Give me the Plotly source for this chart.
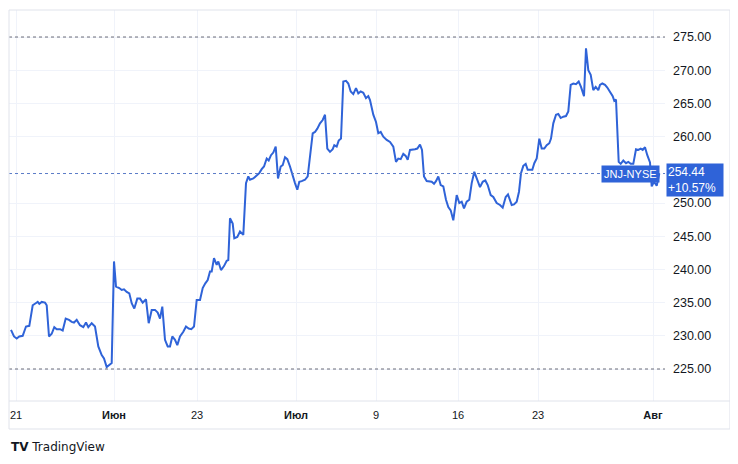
import plotly.graph_objects as go

# time position along the axis and JNJ close price
t = [11, 14, 16.7, 19.3, 22.7, 26, 29.3, 32.7, 35.7, 37.7, 39.3, 41.7, 45, 46.7, 49, 51.7, 54.3, 56.7, 60, 62.7,
     65.7, 69, 71.7, 74, 76.7, 80, 83.3, 86, 88.3, 91.7, 95, 98.3, 101.7, 104, 106.7, 109.3, 111.7, 114, 116, 119.3,
     121.7, 124, 126.7, 129.3, 131.7, 134.3, 137.3, 140, 142.7, 146, 148.7, 151.7, 155, 157.7, 160, 162.3, 165, 167.7,
     170, 172.3, 175, 177.3, 180, 183.3, 186, 188.7, 191.3, 194, 196.7, 200, 202.7, 205.3, 207.7, 210, 211.7, 214,
     216.7, 218.3, 221, 224, 226.7, 228.3, 230, 232.7, 234.3, 237.3, 240, 243.3, 246, 248.3, 250, 253.3, 256.7, 259.3,
     261.7, 264, 266.7, 268.7, 271, 273.3, 275.7, 278, 280.7, 282.7, 285, 287.3, 290, 292.7, 295, 297.3, 299.3, 301.7,
     305, 307.7, 310, 312.7, 315, 317.3, 320, 322.7, 325, 327.3, 330, 332.7, 334.3, 336.7, 338.7, 341, 343.3, 346,
     348.3, 350.7, 353.3, 356, 358.3, 360.7, 363.3, 366, 368.3, 370, 373.3, 376, 378.3, 380.7, 383.3, 386.7, 390,
     393.3, 396, 398.3, 400.7, 403.3, 405.7, 407.7, 410, 412.7, 415, 417.3, 420, 422, 424, 426.7, 429, 431.7, 434,
     436, 438.3, 440.7, 443.3, 446, 448.3, 450.7, 453.3, 456.7, 459.3, 461.7, 464, 466.7, 469.3, 471.7, 474.3, 476.7,
     480, 482.7, 485.3, 487.7, 490.7, 493.3, 496.7, 500, 502.7, 505.7, 508, 511.7, 514, 516.7, 519, 521, 523.3,
     525.7, 527.7, 530, 532.3, 534.3, 536.7, 539.3, 541.7, 544.3, 546.7, 549.3, 551, 553.3, 556, 558.3, 560.7, 563.3,
     566, 568.3, 570.7, 573.3, 576, 578.7, 581, 584, 586, 588.3, 590.7, 593.3, 595.7, 598.3, 600, 602.3, 605, 607.3,
     610, 612.7, 614.3, 616, 618.7, 620.7, 623.3, 626, 628.3, 630.7, 633.3, 636, 638.3, 640.7, 642.7, 645, 647.3,
     650, 651.7, 654, 656.7, 659.3]

price = [230.9, 229.9, 229.6, 229.9, 230.0, 231.4, 231.5, 234.6, 234.9, 235.1, 234.8, 235.1, 235.0, 234.6, 229.9,
         230.3, 231.3, 231.0, 231.0, 230.8, 232.6, 232.4, 232.1, 232.0, 232.4, 231.6, 231.3, 232.0, 231.3, 231.9,
         231.4, 228.4, 227.1, 226.6, 225.3, 225.6, 225.9, 241.2, 237.4, 237.2, 236.9, 237.0, 236.6, 236.4, 234.9,
         234.1, 235.6, 235.6, 235.0, 235.5, 231.9, 233.9, 233.9, 233.5, 232.6, 234.4, 229.4, 228.4, 228.4, 229.9,
         229.4, 228.6, 229.9, 230.6, 231.4, 231.1, 231.0, 231.4, 235.4, 235.4, 237.2, 237.9, 238.4, 239.7, 239.7,
         241.7, 240.7, 241.2, 239.9, 240.5, 241.3, 241.4, 247.7, 246.9, 244.7, 244.9, 245.7, 245.2, 253.0, 254.0,
         253.5, 253.7, 254.2, 254.5, 255.1, 255.5, 256.7, 256.4, 257.2, 257.6, 258.5, 253.7, 255.5, 255.7, 256.9,
         256.6, 255.5, 254.0, 253.0, 252.0, 253.2, 253.3, 253.5, 254.0, 257.2, 260.5, 260.7, 261.2, 262.0, 262.5,
         263.3, 258.2, 257.7, 258.1, 258.7, 258.5, 259.4, 259.7, 268.3, 268.4, 268.0, 266.8, 266.4, 267.3, 266.5,
         266.8, 266.6, 265.8, 266.1, 265.5, 263.3, 262.2, 260.5, 260.7, 260.0, 259.5, 259.2, 258.5, 256.2, 256.7,
         256.6, 257.4, 257.1, 256.5, 258.0, 258.0, 258.1, 258.2, 258.8, 258.0, 254.0, 253.3, 253.2, 253.2, 252.9,
         253.3, 254.0, 252.7, 252.5, 250.5, 249.4, 248.9, 247.4, 251.2, 250.0, 250.2, 249.2, 250.2, 250.5, 253.0,
         254.7, 253.7, 252.4, 253.2, 253.4, 252.7, 251.2, 250.9, 250.0, 249.7, 249.3, 250.9, 251.3, 249.7, 249.8,
         250.2, 251.7, 254.5, 255.6, 255.9, 255.0, 255.0, 255.0, 256.0, 256.7, 259.7, 258.2, 258.2, 258.7, 259.0,
         259.7, 262.0, 263.3, 263.4, 262.8, 263.0, 263.1, 263.8, 267.8, 268.0, 267.9, 268.3, 267.5, 266.1, 273.3,
         270.0, 269.3, 267.0, 267.5, 267.0, 267.8, 268.0, 267.8, 267.4, 266.8, 266.1, 265.4, 265.6, 256.2, 255.9,
         256.4, 256.0, 256.2, 255.9, 255.9, 258.1, 258.0, 258.2, 258.0, 258.4, 257.2, 256.1, 252.5, 253.2, 252.6,
         254.44]

assert len(t) == len(price), (len(t), len(price))

tick_pos = [16, 114, 197, 296, 376, 458, 538, 653]
tick_text = ["21", "<b>Июн</b>", "23", "<b>Июл</b>", "9", "16", "23", "<b>Авг</b>"]
# 255.00 sits under the last-price box, so it is left out
price_ticks = [225, 230, 235, 240, 245, 250, 260, 265, 270, 275]

last_price = 254.44
change_text = "+10.57%"
hi_level, lo_level = 275, 225

blue = "#2f63d8"
frame = "#e0e3eb"
FONT = "Liberation Sans, Arial, sans-serif"

fig = go.Figure()
fig.add_trace(go.Scatter(x=t, y=price, mode="lines",
                         line=dict(color=blue, width=2), hoverinfo="skip"))

# dotted levels
for lvl, col in [(hi_level, "#6a6d78"), (lo_level, "#6a6d78"), (last_price, "#5b7bc8")]:
    fig.add_shape(type="line", xref="paper", x0=0, x1=1, yref="y", y0=lvl, y1=lvl,
                  line=dict(color=col, width=1, dash="dot"))

# frame around the whole widget
fig.add_shape(type="rect", xref="paper", yref="paper", x0=0, x1=1.099, y0=-0.0716, y1=1,
              line=dict(color=frame, width=1))
fig.add_shape(type="line", xref="paper", yref="paper", x0=0, x1=1.099, y0=0, y1=0,
              line=dict(color=frame, width=1))

# symbol + price labels
fig.add_annotation(xref="paper", x=1, xanchor="right", xshift=-5, y=last_price, yanchor="middle",
                   text="JNJ-NYSE", showarrow=False, bgcolor=blue, borderpad=2,
                   font=dict(family=FONT, size=11, color="white"))
fig.add_annotation(xref="paper", x=1, xanchor="left", xshift=1, y=last_price, yanchor="top", yshift=11,
                   text=f"{last_price:.2f}<br>{change_text}", showarrow=False, bgcolor=blue,
                   width=54, borderpad=1, align="left", font=dict(family=FONT, size=12, color="white"))

# TradingView logo
fig.add_annotation(xref="paper", yref="paper", x=0.0, y=-0.1176, xanchor="left", yanchor="middle",
                   text="<b>TV</b> TradingView", showarrow=False,
                   font=dict(family="DejaVu Sans, sans-serif", size=12, color="#131722"))

# page body adds 8px on the left/top, so the figure is 730x456 and margins are reduced
fig.update_layout(
    width=730, height=456,
    margin=dict(l=1, r=73, t=2, b=63),
    paper_bgcolor="white", plot_bgcolor="white",
    showlegend=False,
    font=dict(family=FONT, size=12, color="#131722"),
)
fig.update_xaxes(range=[9, 665], tickvals=tick_pos, ticktext=tick_text, showgrid=True,
                 gridcolor="#f0f3fa", zeroline=False, showline=False, ticks="",
                 ticklabelstandoff=6, tickfont=dict(size=11))
fig.update_yaxes(range=[220.18, 279.07], side="right", tickvals=price_ticks,
                 tickformat=".2f", showgrid=True, gridcolor="#f0f3fa", zeroline=False,
                 showline=False, ticks="", ticklabelstandoff=7, tickfont=dict(size=12.5))

fig.write_html("out.html")
